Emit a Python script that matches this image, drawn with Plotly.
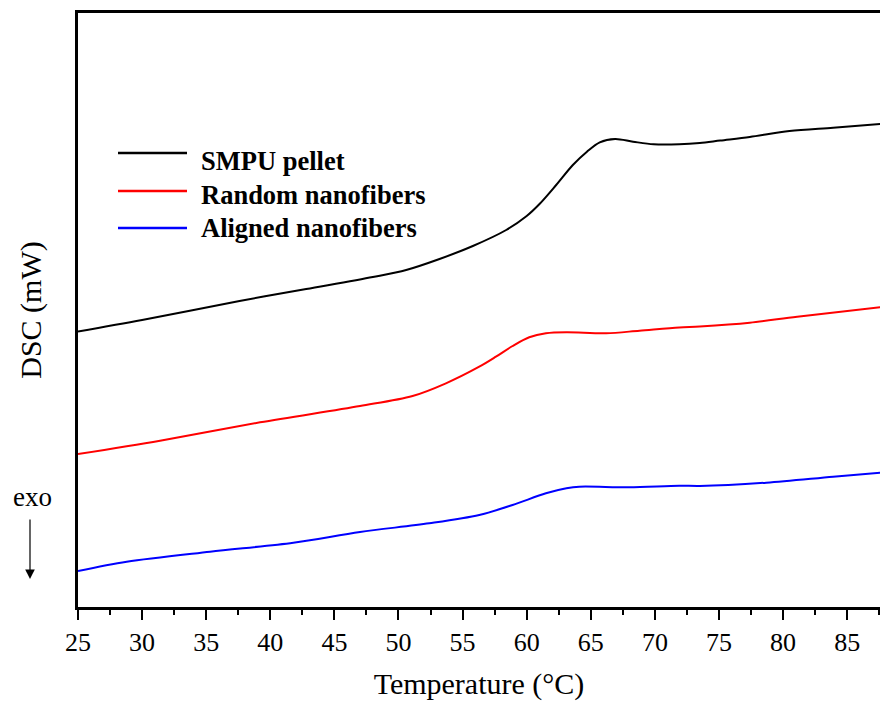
import plotly.graph_objects as go

# Temperature (°C) and DSC signal (arbitrary mW units)
t_smpu = [25.0, 30.0, 37.6, 42.8, 48.0, 50.6, 53.2, 55.8, 58.4, 60.0, 61.0, 62.3, 63.6,
          64.7, 65.7, 66.9, 68.3, 69.9, 71.9, 73.5, 75.1, 77.4, 80.5, 83.9, 87.6]
dsc_smpu = [2.755, 2.87, 3.06, 3.18, 3.30, 3.37, 3.48, 3.61, 3.77, 3.91, 4.03, 4.22, 4.42,
            4.553, 4.647, 4.68, 4.653, 4.627, 4.627, 4.64, 4.665, 4.70, 4.76, 4.793, 4.83]

t_random = [25.0, 31.4, 39.2, 47.0, 51.1, 53.7, 56.3, 57.6, 58.9, 60.2, 61.5,
            63.1, 66.2, 68.8, 71.9, 73.5, 77.4, 81.1, 87.6]
dsc_random = [1.53, 1.663, 1.847, 2.01, 2.11, 2.237, 2.403, 2.503, 2.61, 2.697, 2.737,
              2.747, 2.737, 2.763, 2.795, 2.805, 2.843, 2.903, 2.997]

t_aligned = [25.0, 28.8, 35.3, 41.8, 47.0, 52.4, 56.3, 58.9, 61.5, 63.1, 64.1,
             68.0, 71.9, 73.5, 78.7, 83.9, 87.6]
dsc_aligned = [0.36, 0.453, 0.553, 0.643, 0.75, 0.837, 0.92, 1.02, 1.137, 1.187, 1.203,
               1.197, 1.213, 1.21, 1.243, 1.303, 1.343]

series_names = ["SMPU pellet", "Random nanofibers", "Aligned nanofibers"]
series_colors = ["#000000", "#ff0000", "#0000ff"]

x_ticks = [25, 30, 35, 40, 45, 50, 55, 60, 65, 70, 75, 80, 85]

W, H = 880, 702
ML, MR, MT, MB = 78, 0, 13, 95
PW, PH = W - ML - MR, H - MT - MB


def px(xpix):
    return (xpix - ML) / PW


def py(ypix):
    return (H - MB - ypix) / PH


fig = go.Figure()
for t, d, name, col in zip([t_smpu, t_random, t_aligned],
                           [dsc_smpu, dsc_random, dsc_aligned],
                           series_names, series_colors):
    fig.add_trace(go.Scatter(x=t, y=d, mode="lines", name=name,
                             line=dict(color=col, width=2, shape="spline", smoothing=0.9),
                             showlegend=False))

serif = "Liberation Serif, Times New Roman, serif"

# manual legend (long line samples as in the original)
leg_line_y = [153, 191, 228]
leg_text_y = [161, 195, 228]
for name, col, ly, ty in zip(series_names, series_colors, leg_line_y, leg_text_y):
    fig.add_shape(type="line", xref="paper", yref="paper",
                  x0=px(118), x1=px(187), y0=py(ly), y1=py(ly),
                  line=dict(color=col, width=2.5))
    fig.add_annotation(xref="paper", yref="paper", x=px(199), y=py(ty),
                       xanchor="left", yanchor="middle", showarrow=False,
                       text="<b>%s</b>" % name,
                       font=dict(family=serif, size=26.5, color="black"))

# exo label and arrow
fig.add_annotation(xref="paper", yref="paper", x=px(32), y=py(497),
                   xanchor="center", yanchor="middle", showarrow=False,
                   text="exo", font=dict(family=serif, size=27, color="black"))
fig.add_annotation(xref="paper", yref="paper", x=px(30), y=py(579),
                   ax=0, ay=-61, axref="pixel", ayref="pixel",
                   text="", showarrow=True, arrowhead=2, arrowsize=1.6,
                   arrowwidth=1.2, arrowcolor="black")

fig.update_layout(
    width=W, height=H,
    margin=dict(l=ML, r=MR, t=MT, b=MB),
    paper_bgcolor="white", plot_bgcolor="white",
    showlegend=False,
    font=dict(family=serif, color="black"),
    xaxis=dict(
        range=[25, 87.56], tickmode="array", tickvals=x_ticks,
        ticktext=[str(v) for v in x_ticks],
        showgrid=False, zeroline=False,
        showline=True, linecolor="black", linewidth=2.5, mirror=True,
        ticks="outside", ticklen=10, tickwidth=2, tickcolor="black",
        tickfont=dict(family=serif, size=26, color="black"),
        minor=dict(dtick=2.5, tick0=25, ticks="outside", ticklen=5, tickwidth=2,
                   tickcolor="black", showgrid=False),
        title=dict(text="Temperature (°C)", font=dict(family=serif, size=30, color="black"),
                   standoff=18),
        automargin=False,
    ),
    yaxis=dict(
        range=[0, 5.94], showticklabels=False, ticks="",
        showgrid=False, zeroline=False,
        showline=True, linecolor="black", linewidth=2.5, mirror=False,
        title=dict(text="DSC (mW)", font=dict(family=serif, size=30, color="black"),
                   standoff=25),
        automargin=False,
    ),
)

fig.write_html("out.html")
